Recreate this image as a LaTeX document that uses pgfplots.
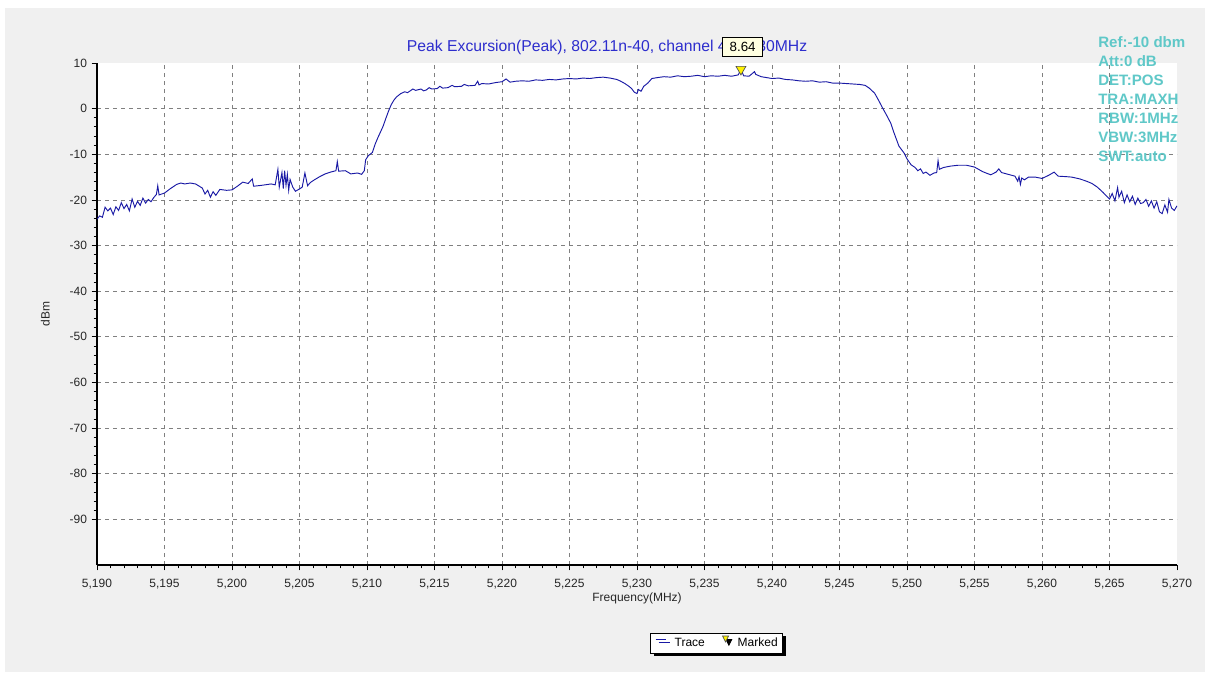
\documentclass[border=0pt]{standalone}
\usepackage{fontspec}
\setmainfont{Liberation Sans}
\usepackage{pgfplots}
\pgfplotsset{compat=1.18}
\usetikzlibrary{shadows}
\definecolor{tracec}{RGB}{25,25,165}
\definecolor{ttlc}{RGB}{45,45,205}
\definecolor{infoc}{RGB}{95,200,200}
\definecolor{panelc}{RGB}{240,240,240}
\definecolor{gridc}{RGB}{128,128,128}
\definecolor{tipc}{RGB}{255,255,225}
\begin{document}
\begin{tikzpicture}
\fill[white] (0pt,0pt) rectangle (910.5pt,-509.25pt);
\fill[panelc] (3.75pt,-6pt) rectangle (903.75pt,-504pt);
\begin{axis}[
  at={(72.75pt,-423.75pt)}, anchor=south west,
  width=810pt, height=376.5pt, scale only axis,
  xmin=5190, xmax=5270, ymin=-100, ymax=10,
  axis background/.style={fill=white},
  axis lines=left,
  axis line style={-, line width=1.8pt, black},
  tick align=outside,
  major tick length=4pt, minor tick length=2.5pt,
  every tick/.style={black, line width=0.6pt},
  xtick={5190,5195,...,5265}, extra x ticks={5270}, extra x tick style={grid=none},
  ytick={-90,-80,...,0}, extra y ticks={10}, extra y tick style={grid=none},
  minor x tick num=4, minor y tick num=4,
  grid=major,
  major grid style={gridc, line width=0.6pt, dash pattern=on 3pt off 3pt},
  /pgf/number format/.cd, 1000 sep={,}, assume math mode=true, /pgfplots/.cd,
  ticklabel style={font=\fontsize{9}{10}\selectfont, text=black!85},
  xticklabel style={yshift=-3pt},
  xlabel={Frequency(MHz)}, ylabel={dBm},
  label style={font=\fontsize{9}{10}\selectfont, text=black!85},
  xlabel style={at={(axis description cs:0.5,-0.0558)}, anchor=north, inner sep=0pt},
  legend style={at={(0.5735,-0.1349)}, anchor=north, legend columns=2,
    draw=black, line width=0.6pt, fill=white, font=\fontsize{9}{10}\selectfont,
    inner sep=1.5pt, row sep=0pt,
    /tikz/every odd column/.append style={column sep=2pt},
    /tikz/every even column/.append style={column sep=9pt},
    drop shadow={shadow xshift=2.5pt, shadow yshift=-2.5pt, fill=black, opacity=1}},
]
\addplot[tracec, line width=0.7pt, mark=none,
  legend image code/.code={\path (-2pt,0pt) (10pt,0pt); \draw[tracec,line width=0.8pt] (0pt,3pt) -- (8pt,3pt);}]
coordinates {
(5190.0,-24.2)(5190.2,-23.5)(5190.4,-23.8)(5190.6,-21.6)(5190.8,-22.4)(5191.0,-21.8)
(5191.2,-23.2)(5191.4,-21.5)(5191.6,-22.3)(5191.8,-20.6)(5192.0,-21.9)(5192.2,-21.0)
(5192.4,-22.4)(5192.6,-19.8)(5192.8,-21.6)(5193.0,-20.3)(5193.2,-21.2)(5193.4,-19.6)
(5193.6,-20.7)(5193.8,-19.9)(5194.0,-20.4)(5194.2,-19.5)(5194.4,-18.8)(5194.5,-16.9)
(5194.6,-18.9)(5195.0,-18.5)(5195.4,-17.6)(5195.9,-16.6)(5196.2,-16.3)(5196.5,-16.5)(5196.9,-16.3)(5197.3,-16.5)
(5197.8,-17.4)(5198.0,-18.7)(5198.2,-17.9)(5198.4,-19.4)(5198.6,-18.2)(5198.8,-19.0)
(5199.1,-17.7)(5199.6,-17.9)(5200.0,-17.8)(5200.4,-17.0)(5200.8,-16.1)(5201.2,-16.4)
(5201.5,-15.4)(5201.6,-17.0)(5202.2,-16.8)(5202.9,-16.5)(5203.2,-16.7)(5203.4,-13.3)
(5203.5,-17.2)(5203.7,-14.0)(5203.8,-17.5)(5203.9,-13.6)(5204.0,-16.8)(5204.1,-14.4)
(5204.2,-17.9)(5204.3,-15.5)(5204.5,-17.2)(5204.7,-18.1)(5205.0,-17.6)(5205.2,-17.2)
(5205.4,-14.1)(5205.6,-16.9)(5205.8,-16.2)(5206.1,-15.6)(5206.5,-14.9)(5206.9,-14.3)
(5207.3,-13.9)(5207.7,-13.6)(5207.8,-11.6)(5207.9,-13.7)(5208.4,-13.6)(5208.8,-14.3)
(5209.3,-14.1)(5209.6,-14.4)(5209.8,-13.6)(5209.9,-11.2)(5210.1,-10.3)(5210.4,-9.6)
(5210.6,-7.8)(5210.8,-6.4)(5211.0,-5.1)(5211.2,-3.8)(5211.4,-2.1)(5211.6,-0.5)
(5211.8,0.9)(5212.0,1.9)(5212.2,2.6)(5212.5,3.3)(5212.8,3.7)(5213.0,3.5)(5213.2,3.9)
(5213.4,4.3)(5213.6,4.0)(5214.0,4.3)(5214.2,3.9)(5214.4,4.1)(5214.6,4.6)(5214.8,4.3)(5215.2,4.4)(5215.4,4.9)(5215.6,4.5)
(5216.0,4.6)(5216.3,5.1)(5216.5,4.8)(5217.0,4.9)(5217.2,5.3)(5217.5,5.0)(5218.0,5.1)(5218.2,6.0)(5218.3,5.2)(5218.5,5.5)
(5219.0,5.4)(5219.5,5.7)(5220.0,5.9)(5220.3,6.5)(5220.6,5.8)(5221.0,6.0)
(5221.5,6.1)(5222.0,6.0)(5222.5,6.3)(5223.0,6.2)(5223.5,6.4)(5224.0,6.3)
(5224.5,6.5)(5225.0,6.6)(5225.5,6.5)(5226.0,6.7)(5226.5,6.6)(5227.0,6.8)
(5227.5,6.9)(5228.0,6.7)(5228.5,6.4)(5228.8,6.0)(5229.1,5.5)(5229.4,4.9)
(5229.6,4.4)(5229.8,3.6)(5230.0,3.3)(5230.1,4.2)(5230.3,3.8)(5230.5,4.9)
(5230.8,5.6)(5231.1,6.6)(5231.5,6.8)(5232.0,7.0)(5232.5,6.9)(5233.0,7.2)
(5233.5,7.0)(5234.0,7.1)(5234.5,7.3)(5235.0,7.0)(5235.5,7.2)(5236.0,7.1)
(5236.5,7.3)(5237.0,7.1)(5237.5,7.4)(5237.7,8.64)(5237.9,7.2)(5238.3,7.1)
(5238.7,8.1)(5238.8,7.5)(5239.2,7.0)(5239.6,6.8)(5240.0,6.6)(5240.5,6.7)
(5241.0,6.4)(5241.5,6.3)(5242.0,6.1)(5242.5,6.0)(5243.0,6.1)(5243.5,5.8)
(5244.0,5.9)(5244.5,5.6)(5245.0,5.6)(5245.5,5.5)(5246.0,5.4)(5246.5,5.3)
(5246.9,5.1)(5247.2,4.5)(5247.6,3.4)(5247.9,1.8)(5248.2,0.1)(5248.5,-1.5)
(5248.8,-3.2)(5249.0,-5.0)(5249.2,-6.6)(5249.4,-8.2)(5249.6,-9.0)(5249.8,-9.8)
(5250.0,-11.0)(5250.3,-12.3)(5250.6,-12.9)(5250.8,-13.6)(5251.0,-13.2)(5251.2,-14.2)
(5251.4,-13.9)(5251.7,-14.6)(5252.0,-14.1)(5252.2,-14.0)(5252.3,-11.4)(5252.4,-13.3)
(5252.7,-12.9)(5253.2,-12.6)(5253.8,-12.4)(5254.4,-12.4)(5255.0,-12.8)(5255.6,-13.8)
(5256.2,-14.5)(5256.6,-13.9)(5256.8,-13.2)(5257.0,-14.0)(5257.5,-14.4)(5258.0,-14.8)
(5258.2,-15.9)(5258.3,-14.9)(5258.4,-16.6)(5258.5,-15.2)(5258.7,-15.6)(5259.0,-15.0)
(5259.5,-15.0)(5260.0,-15.3)(5260.5,-14.6)(5260.9,-13.9)(5261.2,-14.8)(5261.8,-14.9)
(5262.2,-15.0)(5262.8,-15.4)(5263.3,-15.9)(5263.7,-16.4)(5264.1,-17.2)(5264.5,-18.3)
(5264.8,-19.2)(5265.0,-19.8)(5265.2,-18.6)(5265.4,-20.2)(5265.6,-17.3)(5265.7,-19.4)
(5265.9,-18.1)(5266.1,-20.6)(5266.3,-18.9)(5266.5,-20.4)(5266.7,-19.2)(5266.9,-21.0)
(5267.1,-19.6)(5267.3,-20.8)(5267.5,-20.6)(5267.7,-19.9)(5267.9,-21.4)(5268.1,-20.2)
(5268.3,-21.8)(5268.5,-20.4)(5268.7,-22.6)(5268.9,-23.0)(5269.1,-21.1)(5269.3,-22.7)
(5269.4,-19.9)(5269.6,-21.8)(5269.8,-22.3)(5270.0,-21.3)
};
\addlegendentry{Trace}
\addplot[only marks, mark=triangle*, mark size=4.3pt,
  mark options={rotate=180, fill=yellow, draw=black!70, line width=0.5pt},
  legend image code/.code={\path (-2pt,0pt) (7pt,0pt); \draw[fill=yellow,draw=black!70,line width=0.5pt] (0pt,5.3pt) -- (4.4pt,5.3pt) -- (2.2pt,0.9pt) -- cycle;}]
coordinates {(5237.7,8.64)};
\addlegendentry{Marked}
\end{axis}
% title
\node[anchor=base west, text=ttlc, font=\fontsize{11.8}{13}\selectfont, inner sep=0pt]
  at (305pt,-38.25pt) {Peak Excursion(Peak), 802.11n-40, channel 46 5230MHz};
% marker value tooltip
\node[draw=black, line width=0.5pt, fill=tipc, minimum width=30pt, minimum height=14pt,
  inner sep=1pt, font=\fontsize{10}{11}\selectfont] at (557pt,-35.25pt) {8.64};
% instrument settings
\begin{scope}[every node/.style={anchor=base west, text=infoc, inner sep=0pt,
  font=\bfseries\fontsize{11.3}{12}\selectfont}]
\node at (823.5pt,-35.8pt) {Ref:-10 dbm};
\node at (823.5pt,-50.0pt) {Att:0 dB};
\node at (823.5pt,-64.3pt) {DET:POS};
\node at (823.5pt,-78.5pt) {TRA:MAXH};
\node at (823.5pt,-92.8pt) {RBW:1MHz};
\node at (823.5pt,-107.0pt) {VBW:3MHz};
\node at (823.5pt,-121.3pt) {SWT:auto};
\end{scope}
\end{tikzpicture}
\end{document}
